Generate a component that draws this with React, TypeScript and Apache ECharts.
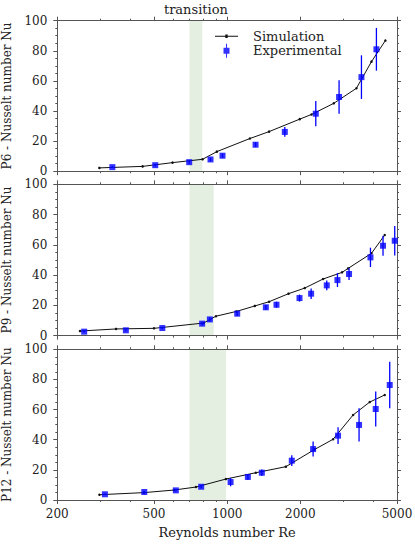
import React, { useEffect, useRef } from "react";
import * as echarts from "echarts";

// ---- Data ----
const xMajorTicks = [200, 500, 1000, 2000, 5000];
const xMinorTicks = [300, 400, 600, 700, 800, 900, 3000, 4000];

// P6
const simRe6 = [298, 449, 596, 792, 907, 1240, 1488, 1990, 2224, 2747, 3404, 3926, 4479];
const simNu6 = [2.2, 3.2, 5.7, 7.9, 13.0, 21.7, 26.3, 34.6, 37.7, 45.1, 55.1, 72.8, 86.8];
const expRe6 = [337, 506, 698, 854, 957, 1309, 1727, 2316, 2888, 3570, 4114];
const expNu6 = [2.7, 4.0, 6.0, 7.8, 10.3, 17.6, 26.1, 38.2, 49.3, 62.5, 81.0];
const expErr6 = [0.6, 0.8, 1.0, 1.2, 1.4, 1.6, 3.2, 8.4, 11.2, 14.5, 14.2];
const band6 = [700, 790];

// P9
const simRe9 = [248, 349, 500, 800, 899, 1093, 1300, 1488, 1789, 2086, 2482, 2971, 3146, 3926, 4452];
const simNu9 = [3.0, 4.4, 4.8, 8.3, 12.8, 16.0, 19.6, 22.4, 27.7, 31.4, 37.4, 41.8, 44.4, 54.4, 66.5];
const expRe9 = [258, 383, 541, 789, 849, 1100, 1443, 1596, 1985, 2216, 2570, 2844, 3174, 3888, 4380, 4894];
const expNu9 = [2.6, 3.5, 5.0, 7.9, 10.7, 14.5, 18.7, 20.4, 24.8, 27.7, 33.2, 36.7, 40.7, 51.7, 59.4, 62.7];
const expErr9 = [0.5, 0.6, 0.7, 1.0, 1.3, 1.5, 1.6, 2.0, 2.3, 3.5, 3.3, 4.6, 4.0, 6.4, 6.6, 9.7];
const band9 = [700, 880];

// P12
const simRe12 = [298, 455, 604, 744, 988, 1312, 1744, 2294, 2729, 3298, 3862, 4452];
const simNu12 = [3.5, 4.9, 6.6, 8.6, 13.9, 18.1, 22.1, 33.6, 40.3, 56.4, 65.0, 69.7];
const expRe12 = [314, 456, 615, 782, 1033, 1217, 1389, 1845, 2258, 2860, 3490, 4087, 4667];
const expNu12 = [3.8, 5.3, 6.4, 8.8, 11.9, 15.3, 18.1, 26.1, 33.8, 42.7, 49.8, 60.4, 76.3];
const expErr12 = [0.5, 0.7, 0.8, 1.0, 2.8, 1.8, 2.2, 3.6, 5.0, 5.6, 11.0, 11.6, 15.5];
const band12 = [700, 990];

const panelNames = ["P6 - Nusselt number Nu", "P9 - Nusselt number Nu", "P12 - Nusselt number Nu"];

const FONT = "DejaVu Serif";
const TEXT = "#222";
const AXIS = "#555";
const BLUE = "#0000ff";
const SIM = "#111";
const BAND = "#e4efe1";

const SIM_ICON = "path://M0,6.5H23V7.5H0Z M10.3,5.3H12.7V8.7H10.3Z";
const EXP_ICON = "path://M11,0H12V4H14.5V10H12V14H11V10H8.5V4H11Z";

export default function App() {
  const ref = useRef<HTMLDivElement>(null);

  useEffect(() => {
    if (!ref.current) return;
    const chart = echarts.init(ref.current, undefined, { renderer: "svg" });

    const panels = [
      { simRe: simRe6, simNu: simNu6, expRe: expRe6, expNu: expNu6, expErr: expErr6, band: band6 },
      { simRe: simRe9, simNu: simNu9, expRe: expRe9, expNu: expNu9, expErr: expErr9, band: band9 },
      { simRe: simRe12, simNu: simNu12, expRe: expRe12, expNu: expNu12, expErr: expErr12, band: band12 },
    ];

    const gridBase = { left: 57.3, right: 18, outerBoundsMode: "none", containLabel: false };
    const grids = [
      { ...gridBase, top: 20.7, height: 150.5 },
      { ...gridBase, top: 184.3, height: 151.3 },
      { ...gridBase, top: 349.3, height: 150.7 },
    ];

    const xAxes: any[] = [];
    const yAxes: any[] = [];
    const series: any[] = [];

    grids.forEach((_, i) => {
      const isLast = i === 2;
      const base = {
        type: "log",
        logBase: 10,
        gridIndex: i,
        min: 200,
        max: 5000,
        z: 2,
        splitLine: { show: false },
        minorTick: { show: false },
        minorSplitLine: { show: false },
      };
      xAxes.push({
        ...base,
        position: "bottom",
        axisLine: { show: true, lineStyle: { color: AXIS, width: 1 } },
        axisTick: { show: true, customValues: xMajorTicks, length: 4, lineStyle: { color: AXIS } },
        axisLabel: {
          show: isLast,
          customValues: xMajorTicks,
          formatter: (v: number) => String(Math.round(v)),
          fontFamily: FONT,
          fontSize: 12,
          color: TEXT,
          margin: 8,
          hideOverlap: false,
        },
        name: isLast ? "Reynolds number Re" : "",
        nameLocation: "middle",
        nameGap: 26,
        nameTextStyle: { fontFamily: FONT, fontSize: 13, color: TEXT },
      });
      xAxes.push({
        ...base,
        position: "bottom",
        axisLine: { show: false },
        axisTick: { show: true, customValues: xMinorTicks, length: 2, lineStyle: { color: AXIS } },
        axisLabel: { show: false },
      });
      xAxes.push({
        ...base,
        position: "top",
        axisLine: { show: true, lineStyle: { color: AXIS, width: 1 } },
        axisTick: { show: true, customValues: xMajorTicks, length: 4, lineStyle: { color: AXIS } },
        axisLabel: { show: false },
      });
      xAxes.push({
        ...base,
        position: "top",
        axisLine: { show: false },
        axisTick: { show: true, customValues: xMinorTicks, length: 2, lineStyle: { color: AXIS } },
        axisLabel: { show: false },
      });

      const ybase = {
        type: "value",
        gridIndex: i,
        min: 0,
        max: 100,
        interval: 20,
        z: 2,
        splitLine: { show: false },
        axisLine: { show: true, lineStyle: { color: AXIS, width: 1 } },
        axisTick: { show: true, length: 4, lineStyle: { color: AXIS } },
        minorTick: { show: true, splitNumber: 4, length: 2, lineStyle: { color: AXIS } },
      };
      yAxes.push({
        ...ybase,
        position: "left",
        axisLabel: { fontFamily: FONT, fontSize: 12, color: TEXT, margin: 10 },
        name: panelNames[i],
        nameLocation: "middle",
        nameGap: 39,
        nameTextStyle: { fontFamily: FONT, fontSize: 12, color: TEXT },
      });
      yAxes.push({
        ...ybase,
        position: "right",
        axisLabel: { show: false },
      });

      const p = panels[i];
      series.push({
        type: "line",
        name: "Simulation",
        xAxisIndex: 4 * i,
        yAxisIndex: 2 * i,
        data: p.simRe.map((x, k) => [x, p.simNu[k]]),
        symbol: "circle",
        symbolSize: 2.5,
        showSymbol: true,
        lineStyle: { color: SIM, width: 1 },
        itemStyle: { color: SIM },
        z: 3,
        markArea: {
          silent: true,
          itemStyle: { color: BAND },
          label:
            i === 0
              ? {
                  show: true,
                  position: "top",
                  distance: 5,
                  formatter: "transition",
                  fontFamily: FONT,
                  fontSize: 13,
                  color: TEXT,
                }
              : { show: false },
          data: [[{ xAxis: p.band[0] }, { xAxis: p.band[1] }]],
        },
      });
      series.push({
        type: "custom",
        name: "errorbar",
        xAxisIndex: 4 * i,
        yAxisIndex: 2 * i,
        data: p.expRe.map((x, k) => [x, p.expNu[k], p.expErr[k]]),
        z: 4,
        renderItem: (params: any, api: any) => {
          const x = api.value(0);
          const y = api.value(1);
          const e = api.value(2);
          const top = api.coord([x, y + e]);
          const bot = api.coord([x, y - e]);
          return {
            type: "line",
            shape: { x1: top[0], y1: top[1], x2: bot[0], y2: bot[1] },
            style: { stroke: BLUE, lineWidth: 1.3 },
          };
        },
      });
      series.push({
        type: "scatter",
        name: "Experimental",
        xAxisIndex: 4 * i,
        yAxisIndex: 2 * i,
        data: p.expRe.map((x, k) => [x, p.expNu[k]]),
        symbol: "rect",
        symbolSize: 6,
        itemStyle: { color: BLUE },
        z: 5,
      });
    });

    chart.setOption({
      animation: false,
      backgroundColor: "#fff",
      grid: grids,
      xAxis: xAxes,
      yAxis: yAxes,
      legend: {
        show: true,
        orient: "vertical",
        left: 215,
        top: 29.7,
        padding: 0,
        itemGap: 1,
        itemWidth: 23,
        itemHeight: 14,
        selectedMode: false,
        data: [
          { name: "Simulation", icon: SIM_ICON },
          { name: "Experimental", icon: EXP_ICON },
        ],
        textStyle: { fontFamily: FONT, fontSize: 13, color: TEXT, padding: [0, 0, 0, 10] },
      },
      series,
    });

    return () => {
      chart.dispose();
    };
  }, []);

  return (
    <div
      ref={ref}
      style={{ position: "absolute", left: 0, top: 0, width: 415, height: 544, background: "#fff" }}
    />
  );
}
